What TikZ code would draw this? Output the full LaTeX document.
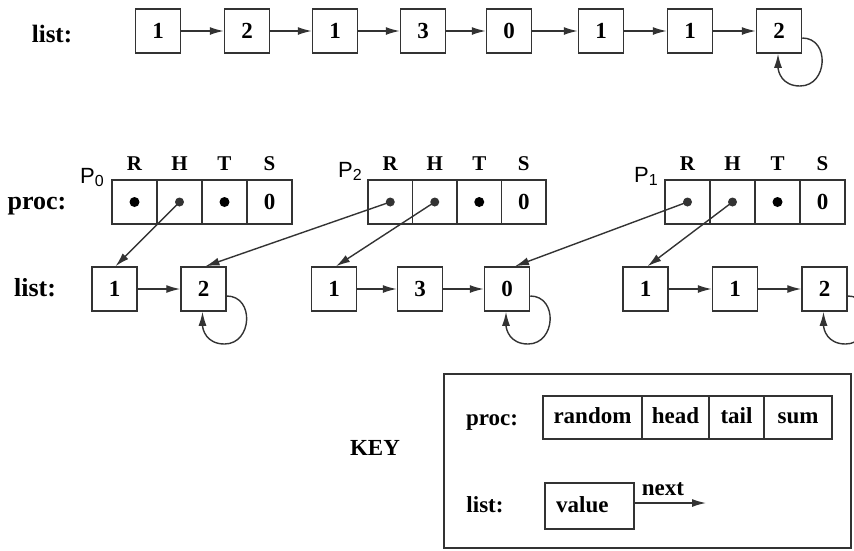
\documentclass[tikz,border=0pt]{standalone}
\usepackage{fontspec}
\setmainfont{Liberation Serif}
\newfontfamily\psans{Liberation Sans}
\usetikzlibrary{arrows.meta,calc}
\definecolor{ink}{HTML}{333333}
\begin{document}
\begin{tikzpicture}[x=1pt,y=-1pt,
  txt/.style={inner sep=0pt,anchor=base,font=\fontsize{23}{23}\selectfont\bfseries},
  lbl/.style={inner sep=0pt,anchor=base,font=\fontsize{25}{25}\selectfont\bfseries},
  hdr/.style={inner sep=0pt,anchor=base,font=\fontsize{21}{21}\selectfont\bfseries},
  pl/.style={inner sep=0pt,anchor=base,font=\fontsize{22}{22}\psans},
  lbox/.style={draw=ink,line width=1.5pt,minimum width=45pt,minimum height=44pt,inner sep=0pt,text height=15pt,text depth=0pt,font=\fontsize{23}{23}\selectfont\bfseries},
  cell/.style={draw=ink,line width=1.5pt,minimum width=45pt,minimum height=44pt,inner sep=0pt,text height=15pt,text depth=0pt,font=\fontsize{23}{23}\selectfont\bfseries},
  kcell/.style={draw=ink,line width=1.5pt,minimum height=43pt,inner sep=0pt,text height=16pt,text depth=5pt,font=\fontsize{23}{23}\selectfont\bfseries},
  arr/.style={draw=ink,line width=1.4pt,-{Latex[length=14pt,width=8pt]}},
  dotb/.style={fill=black},
  dotp/.style={fill=ink}
]
\useasboundingbox (0,0) rectangle (854,550);
\clip (0,0) rectangle (854,550);

% ---------- top list ----------
\node[lbl] (toplist) at (52,42) {list:};
\node[lbox] (t1) at (158,31) {1};
\node[lbox] (t2) at (247,31) {2};
\node[lbox] (t3) at (335,31) {1};
\node[lbox] (t4) at (423,31) {3};
\node[lbox] (t5) at (509,31) {0};
\node[lbox] (t6) at (601,31) {1};
\node[lbox] (t7) at (690,31) {1};
\node[lbox] (t8) at (779,31) {2};
\foreach \a/\b in {t1/t2,t2/t3,t3/t4,t4/t5,t5/t6,t6/t7,t7/t8}
  \draw[arr] (\a.east) -- (\b.west);

\newcommand{\selfloop}[1]{%
  \draw[arr] ($(#1.east)+(0,7)$) .. controls +(28,0) and +(28,0) ..
    ($(#1.center)+(21,55)$) .. controls +(-18,0) and +(0,18) ..
    ($(#1.south)+(-1,0)$);}
\selfloop{t8}

% ---------- proc row ----------
\node[lbl,font=\fontsize{26}{26}\selectfont\bfseries] (proclbl) at (37,209) {proc:};

\node[pl] (p0) at (92,183) {P\raisebox{-0.3ex}{\fontsize{16}{16}\selectfont 0}};
\node[cell] (a1) at (134.5,202) {};
\node[cell] (a2) at (179.5,202) {};
\node[cell] (a3) at (224.5,202) {};
\node[cell] (a4) at (269.5,202) {0};

\node[pl] (p2) at (350,177) {P\raisebox{-0.3ex}{\fontsize{16}{16}\selectfont 2}};
\node[cell,minimum width=44.5pt] (b1) at (390.25,202) {};
\node[cell,minimum width=44.5pt] (b2) at (434.75,202) {};
\node[cell,minimum width=44.5pt] (b3) at (479.25,202) {};
\node[cell,minimum width=44.5pt] (b4) at (523.75,202) {0};

\node[pl] (p1) at (646,182) {P\raisebox{-0.3ex}{\fontsize{16}{16}\selectfont 1}};
\node[cell] (c1) at (687.5,202) {};
\node[cell] (c2) at (732.5,202) {};
\node[cell] (c3) at (777.5,202) {};
\node[cell] (c4) at (822.5,202) {0};

\foreach \c/\l in {a1/R,a2/H,a3/T,a4/S,b1/R,b2/H,b3/T,b4/S,c1/R,c2/H,c3/T,c4/S}
  \node[hdr] (h\c) at ($(\c.center)+(0,-32)$) {\l};

% solid dots
\fill[dotb] (a1.center) circle (5);
\fill[dotb] (a3.center) circle (5);
\fill[dotb] (b3.center) circle (5);
\fill[dotb] (c3.center) circle (5);

% ---------- bottom lists ----------
\node[lbl,font=\fontsize{26}{26}\selectfont\bfseries] (botlist) at (35,296) {list:};
\node[lbox] (l01) at (114.5,289) {1};
\node[lbox] (l02) at (203.5,289) {2};
\node[lbox] (l21) at (334,289) {1};
\node[lbox] (l22) at (420,289) {3};
\node[lbox] (l23) at (507,289) {0};
\node[lbox] (l31) at (645.5,289) {1};
\node[lbox] (l32) at (735,289) {1};
\node[lbox] (l33) at (824.5,289) {2};
\foreach \a/\b in {l01/l02,l21/l22,l22/l23,l31/l32,l32/l33}
  \draw[arr] (\a.east) -- (\b.west);
\selfloop{l02}
\selfloop{l23}
\selfloop{l33}

% pointers
\fill[dotp] (a2.center) circle (4.5);
\fill[dotp] (b1.center) circle (4.5);
\fill[dotp] (b2.center) circle (4.5);
\fill[dotp] (c1.center) circle (4.5);
\fill[dotp] (c2.center) circle (4.5);
\draw[arr] (a2.center) -- ($(l01.north)+(1,0)$);
\draw[arr] (b1.center) -- ($(l02.north)+(2,0)$);
\draw[arr] (b2.center) -- ($(l21.north)+(2,0)$);
\draw[arr] (c1.center) -- ($(l23.north)+(8,0)$);
\draw[arr] (c2.center) -- ($(l31.north)+(2,0)$);

% ---------- key ----------
\node[txt] (keylbl) at (375,455) {KEY};
\node[draw=ink,line width=1.5pt,minimum width=407pt,minimum height=174pt,inner sep=0pt] (keybox) at (647.5,461) {};
\node[txt] (kproc) at (492,425) {proc:};
\node[kcell,minimum width=99pt] (k1) at (592.5,417.5) {random};
\node[kcell,minimum width=67pt] (k2) at (675.5,417.5) {head};
\node[kcell,minimum width=55pt] (k3) at (736.5,417.5) {tail};
\node[kcell,minimum width=68pt] (k4) at (798,417.5) {sum};
\node[txt] (klist) at (485,512) {list:};
\node[draw=ink,line width=1.5pt,minimum width=89pt,minimum height=46pt,inner sep=0pt] (kval) at (589.5,506) {};
\node[txt,anchor=base west] (kvaltxt) at (556,512) {value};
\coordinate (knext) at (706,503);
\draw[arr] (kval.east |- knext) -- (knext);
\node[txt] (knextlbl) at (663,495) {next};
\end{tikzpicture}
\end{document}
